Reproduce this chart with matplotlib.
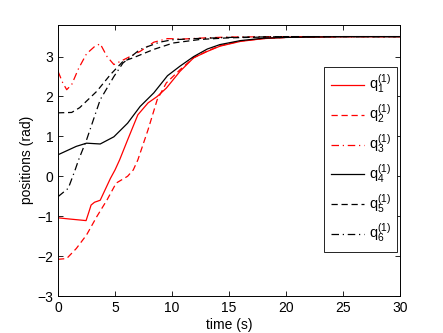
import matplotlib
matplotlib.use("Agg")
import matplotlib.pyplot as plt

plt.rcParams['font.family'] = ['Liberation Sans', 'DejaVu Sans']
plt.rcParams['mathtext.fontset'] = 'custom'
plt.rcParams['mathtext.rm'] = 'Liberation Sans'
plt.rcParams['mathtext.it'] = 'Liberation Sans'

# valores
t1 = [0, 1.0, 2.46, 2.7, 2.9, 3.2, 3.7, 4.6, 5.0, 5.4, 6.1, 7.0, 7.9, 8.7, 9.5, 10.7, 11.9, 13.1, 14.2, 16, 18, 20, 25, 30]
q1 = [-1.04, -1.07, -1.11, -0.9, -0.72, -0.65, -0.6, -0.05, 0.16, 0.41, 0.91, 1.54, 1.84, 2.0, 2.21, 2.63, 2.97, 3.13, 3.26, 3.38, 3.45, 3.48, 3.5, 3.5]

t2 = [0, 0.76, 1.6, 2.5, 3.4, 4.3, 5.1, 6.1, 6.6, 7.0, 7.9, 8.7, 9.5, 10.7, 11.9, 13.1, 14.2, 16, 18, 20, 25, 30]
q2 = [-2.08, -2.06, -1.81, -1.47, -1.01, -0.59, -0.17, 0.0, 0.16, 0.41, 1.17, 1.92, 2.34, 2.67, 2.97, 3.14, 3.27, 3.39, 3.45, 3.48, 3.5, 3.5]

t3 = [0, 0.4, 0.76, 1.2, 1.8, 2.5, 3.2, 3.7, 4.3, 4.9, 6.1, 7.2, 8.4, 9.6, 11, 13, 15, 20, 30]
q3 = [2.63, 2.35, 2.17, 2.3, 2.7, 3.07, 3.25, 3.32, 3.0, 2.8, 2.97, 3.13, 3.36, 3.45, 3.44, 3.47, 3.49, 3.5, 3.5]

t4 = [0, 1.6, 2.5, 3.7, 4.9, 6.1, 7.2, 8.4, 9.6, 10.7, 11.9, 13.1, 14.2, 16, 18, 20, 25, 30]
q4 = [0.54, 0.75, 0.83, 0.81, 0.99, 1.33, 1.75, 2.09, 2.52, 2.76, 3.0, 3.19, 3.3, 3.4, 3.46, 3.48, 3.5, 3.5]

t5 = [0, 1.2, 1.9, 3.4, 4.6, 5.7, 6.6, 8.4, 10.1, 12.5, 15, 20, 30]
q5 = [1.59, 1.6, 1.72, 2.13, 2.55, 2.88, 2.97, 3.18, 3.34, 3.43, 3.47, 3.5, 3.5]

t6 = [0, 0.9, 1.5, 1.8, 2.5, 3.7, 4.9, 5.7, 7.2, 8.9, 10, 12, 15, 20, 30]
q6 = [-0.51, -0.3, 0.16, 0.41, 0.91, 1.92, 2.5, 2.84, 3.18, 3.36, 3.42, 3.45, 3.48, 3.5, 3.5]

fig = plt.figure(figsize=(4.43, 3.33), dpi=100)
ax = fig.add_axes([0.131, 0.111, 0.772, 0.815])

ax.plot(t1, q1, color='red', linestyle='-', linewidth=0.9, label=r'$\mathregular{q_1^{(1)}}$')
ax.plot(t2, q2, color='red', linestyle=(0, (5, 3)), linewidth=0.9, label=r'$\mathregular{q_2^{(1)}}$')
ax.plot(t3, q3, color='red', linestyle=(0, (6, 3, 1, 3)), linewidth=0.9, label=r'$\mathregular{q_3^{(1)}}$')
ax.plot(t4, q4, color='black', linestyle='-', linewidth=0.9, label=r'$\mathregular{q_4^{(1)}}$')
ax.plot(t5, q5, color='black', linestyle=(0, (5, 3)), linewidth=0.9, label=r'$\mathregular{q_5^{(1)}}$')
ax.plot(t6, q6, color='black', linestyle=(0, (6, 3, 1, 3)), linewidth=0.9, label=r'$\mathregular{q_6^{(1)}}$')

ax.set_xlim(0, 30)
ax.set_ylim(-3, 3.8)
ax.set_xticks([0, 5, 10, 15, 20, 25, 30])
ax.set_yticks([-3, -2, -1, 0, 1, 2, 3])
ax.tick_params(direction='in', top=True, right=True, length=3.5, width=0.6, labelsize=10)
for s in ax.spines.values():
    s.set_linewidth(0.7)

ax.set_xlabel("time (s)", fontsize=10, labelpad=2)
ax.set_ylabel("positions (rad)", fontsize=10, labelpad=2)

leg = ax.legend(loc='upper right', bbox_to_anchor=(0.992, 0.845), fontsize=10.5,
                fancybox=False, edgecolor='black', framealpha=1,
                handlelength=2.3, handletextpad=0.3, labelspacing=0.45,
                borderpad=0.45, borderaxespad=0)
leg.get_frame().set_linewidth(0.6)

fig.savefig("out.png", dpi=100)
